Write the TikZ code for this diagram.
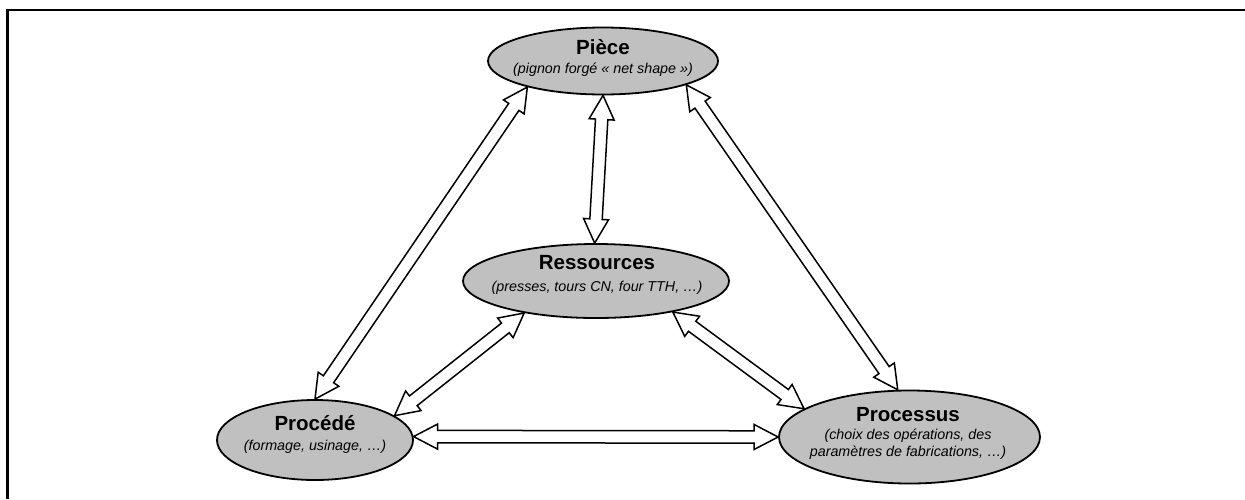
\documentclass[tikz,border=0pt]{standalone}
\usepackage{fontspec}
\setmainfont{Liberation Sans}
\usetikzlibrary{shapes.geometric,calc}
\definecolor{ellgray}{RGB}{192,192,192}
\tikzset{
  blob/.style={ellipse, draw, line width=1.8pt, fill=ellgray, inner sep=0pt},
  ttl/.style={font=\fontsize{20.5}{24}\selectfont\bfseries, inner sep=0pt},
  sub/.style={font=\fontsize{14.3}{17.5}\selectfont\itshape, align=center, inner sep=0pt},
  blockarrow/.style={draw, fill=white, line width=1.5pt, line join=miter},
  framebar/.style={line width=2.7pt},
}
\newcommand\dblblock[2]{%
  \coordinate (tmpHA) at ($(#1)!24pt!(#2)$);
  \coordinate (tmpHB) at ($(#2)!24pt!(#1)$);
  \draw[blockarrow] (#1) -- ($(tmpHA)!12.5pt!90:(#2)$) -- ($(tmpHA)!6.2pt!90:(#2)$)
    -- ($(tmpHB)!6.2pt!-90:(#1)$) -- ($(tmpHB)!12.5pt!-90:(#1)$) -- (#2)
    -- ($(tmpHB)!12.5pt!90:(#1)$) -- ($(tmpHB)!6.2pt!90:(#1)$)
    -- ($(tmpHA)!6.2pt!-90:(#2)$) -- ($(tmpHA)!12.5pt!-90:(#2)$) -- cycle;}
\begin{document}
\begin{tikzpicture}[x=1pt,y=-1pt]
\useasboundingbox (0,0) rectangle (1245,499);
\coordinate (fTL) at (7.5,10);
\coordinate (fTR) at (1245,10);
\coordinate (fBL) at (7.5,499);
\draw[framebar] (fTR) -- (fTL) -- (fBL);
% ellipses
\node[blob, minimum width=230pt, minimum height=67pt] (pie) at (603,61) {};
\node[blob, minimum width=266pt, minimum height=74pt] (res) at (596,281) {};
\node[blob, minimum width=196pt, minimum height=80pt] (prc) at (315,440) {};
\node[blob, minimum width=261pt, minimum height=93pt] (pss) at (909.5,437) {};
% texts
\node[ttl] (pieT) at (603,47) {Pièce};
\node[sub] (pieS) at (603,70) {(pignon forgé « net shape »)};
\node[ttl] (resT) at (597,263) {Ressources};
\node[sub] (resS) at (597,288) {(presses, tours CN, four TTH, …)};
\node[ttl] (prcT) at (315,423) {Procédé};
\node[sub] (prcS) at (315,447) {(formage, usinage, …)};
\node[ttl] (pssT) at (908,415) {Processus};
\node[sub] (pssS) at (908,444) {(choix des opérations, des\\paramètres de fabrications, …)};
% arrows
\dblblock{pie.199}{prc.90}
\dblblock{pie.270}{res.92}
\dblblock{pie.344}{pss.104}
\dblblock{res.204}{prc.17}
\dblblock{res.338}{pss.165}
\dblblock{prc.2}{pss.180}
\end{tikzpicture}
\end{document}
